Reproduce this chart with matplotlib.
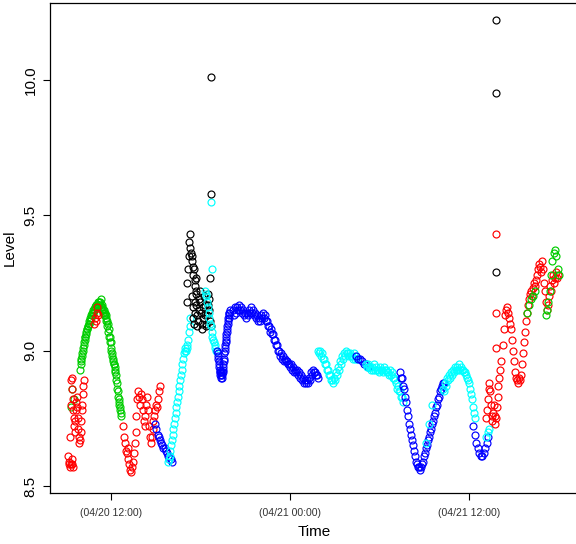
import matplotlib
matplotlib.use("Agg")
import matplotlib.pyplot as plt
import matplotlib.dates as mdates
import numpy as np
import pandas as pd

plt.rcParams["font.family"] = ["Liberation Sans", "DejaVu Sans"]

# hours after 04/20 00:00 for each run: (start, step); levels
red_start = [8.61, 8.59, 8.58, 8.57, 8.58, 8.60, 8.58, 8.57]
green_start = [8.79, 8.86, 8.82]
red_column = [8.68, 8.80, 8.89, 8.90, 8.86, 8.82, 8.78, 8.75, 8.72, 8.70, 8.74, 8.78, 8.81,
              8.83, 8.79, 8.75, 8.71, 8.68, 8.66, 8.67, 8.70, 8.74, 8.78, 8.80, 8.84, 8.87, 8.89]
green_hill = [8.93, 8.96, 8.98, 9.00, 9.02, 9.04, 9.05, 9.07, 9.08, 9.09, 9.10, 9.11, 9.12,
              9.13, 9.14, 9.14, 9.15, 9.16, 9.17, 9.16, 9.18, 9.17, 9.18, 9.19, 9.17, 9.16,
              9.15, 9.15, 9.14, 9.13, 9.11, 9.10, 9.08, 9.05, 9.03, 9.00, 8.98, 8.96, 8.95,
              8.93, 8.91, 8.88, 8.85, 8.82, 8.80, 8.78, 8.76]
green_hill_b = [8.95, 8.97, 8.99, 9.01, 9.03, 9.05, 9.06, 9.08, 9.09, 9.10, 9.11, 9.12, 9.13,
                9.14, 9.15, 9.15, 9.16, 9.17, 9.16, 9.17, 9.17, 9.18, 9.17, 9.16, 9.15, 9.14,
                9.13, 9.13, 9.12, 9.11, 9.09, 9.07, 9.05, 9.03, 9.01, 8.99, 8.97, 8.95, 8.94,
                8.92, 8.89, 8.86, 8.83, 8.81, 8.79, 8.77]
red_peak = [9.10, 9.12, 9.11, 9.14, 9.16, 9.13]
red_dip = [8.72, 8.68, 8.66, 8.63, 8.62, 8.64, 8.60, 8.58, 8.56, 8.55, 8.57, 8.59, 8.62,
           8.66, 8.70, 8.76, 8.82, 8.85, 8.83, 8.80, 8.84, 8.82, 8.78, 8.74, 8.72, 8.76,
           8.80, 8.83, 8.78, 8.72, 8.68, 8.66, 8.68, 8.71, 8.74, 8.76, 8.78, 8.80, 8.79,
           8.82, 8.85, 8.87]
blue_low = [8.73, 8.71, 8.69, 8.68, 8.67, 8.66, 8.65, 8.64, 8.64, 8.63, 8.62, 8.61, 8.60,
            8.60, 8.59]
cyan_rise = [8.59, 8.60, 8.61, 8.63, 8.65, 8.67, 8.69, 8.71, 8.73, 8.75, 8.77, 8.79, 8.81,
             8.83, 8.85, 8.87, 8.89, 8.91, 8.93, 8.95, 8.97, 8.99, 9.00, 9.01, 9.00, 9.01,
             9.02, 9.04, 9.07, 9.09, 9.12]
black_top = [9.18, 9.25, 9.30, 9.35, 9.40, 9.43, 9.38, 9.36, 9.33, 9.35, 9.31, 9.28, 9.30,
             9.26, 9.24, 9.27, 9.22]
black_cluster = [9.20, 9.16, 9.12, 9.10, 9.14, 9.18, 9.21, 9.17, 9.13, 9.09, 9.11, 9.15,
                 9.19, 9.22, 9.18, 9.14, 9.10, 9.08, 9.12, 9.16, 9.20, 9.17, 9.13, 9.10,
                 9.09, 9.13, 9.17, 9.21, 9.19, 9.15, 9.11, 9.09]
cyan_fall = [9.22, 9.20, 9.21, 9.18, 9.16, 9.14, 9.12, 9.10, 9.09, 9.07, 9.05, 9.04, 9.03,
             9.02, 9.01, 9.00]
blue_notch = [9.00, 8.98, 8.96, 8.94, 8.92, 8.91, 8.91, 8.92, 8.90, 8.93, 8.95, 8.97, 9.00,
              9.02, 9.04, 9.06, 9.08, 9.10, 9.12, 9.13, 9.14, 9.15]
blue_notch_b = [8.99, 8.97, 8.95, 8.93, 8.92, 8.92, 8.90, 8.91, 8.92, 8.94, 8.96, 8.99,
                9.01, 9.03, 9.05, 9.07, 9.09, 9.11, 9.12, 9.14]
blue_plateau = [9.15, 9.16, 9.16, 9.17, 9.16, 9.15, 9.14, 9.14, 9.15, 9.16, 9.15, 9.14,
                9.13, 9.12, 9.13, 9.14, 9.13, 9.11, 9.09, 9.08, 9.06, 9.04, 9.02, 9.00,
                8.99, 8.98, 8.97, 8.96, 8.95, 8.95, 8.94, 8.93, 8.93, 8.92, 8.91, 8.90,
                8.89, 8.89, 8.90, 8.92, 8.93, 8.92, 8.91]
blue_plateau_b = [9.13, 9.14, 9.15, 9.15, 9.14, 9.13, 9.12, 9.13, 9.14, 9.14, 9.13, 9.12,
                  9.11, 9.11, 9.12, 9.12, 9.11, 9.09, 9.07, 9.06, 9.04, 9.02, 9.00, 8.98,
                  8.97, 8.96, 8.96, 8.95, 8.94, 8.93, 8.92, 8.92, 8.91, 8.90, 8.89, 8.88,
                  8.88, 8.88, 8.89, 8.91, 8.92, 8.91, 8.90]
cyan_wave = [9.00, 9.00, 8.99, 8.97, 8.95, 8.93, 8.91, 8.89, 8.90, 8.92, 8.94, 8.96, 8.98,
             8.99, 9.00, 8.99, 8.99, 8.98, 8.99, 8.98]
cyan_wave_b = [8.99, 8.98, 8.97, 8.95, 8.93, 8.91, 8.89, 8.88, 8.89, 8.91, 8.93, 8.95, 8.97,
               8.98, 8.99, 8.98, 8.98, 8.97, 8.97, 8.97]
blue_mid = [8.98, 8.97, 8.97, 8.96, 8.95, 8.95, 8.94]
cyan_flat = [8.95, 8.95, 8.94, 8.94, 8.95, 8.94, 8.93, 8.94, 8.93, 8.94, 8.93, 8.92, 8.93,
             8.92, 8.90, 8.88, 8.87, 8.85, 8.83]
cyan_flat_b = [8.94, 8.94, 8.93, 8.93, 8.93, 8.93, 8.92, 8.93, 8.92, 8.93, 8.92, 8.91,
               8.91, 8.90, 8.89, 8.86, 8.85, 8.83, 8.81]
blue_valley = [8.92, 8.90, 8.86, 8.81, 8.76, 8.71, 8.67, 8.63, 8.59, 8.57, 8.56, 8.58,
               8.61, 8.64, 8.67, 8.70, 8.73, 8.76, 8.79, 8.82, 8.85, 8.87, 8.88]
blue_valley_b = [8.90, 8.87, 8.83, 8.78, 8.73, 8.69, 8.65, 8.61, 8.58, 8.57, 8.57, 8.59,
                 8.62, 8.65, 8.68, 8.71, 8.74, 8.77, 8.80, 8.83, 8.86, 8.88]
cyan_in_valley = [8.66, 8.73, 8.80]
cyan_bump = [8.86, 8.88, 8.90, 8.91, 8.92, 8.93, 8.94, 8.94, 8.95, 8.94, 8.93, 8.92, 8.90,
             8.88, 8.84, 8.79, 8.75]
cyan_bump_b = [8.85, 8.87, 8.89, 8.90, 8.91, 8.92, 8.93, 8.93, 8.93, 8.93, 8.92, 8.91,
               8.89, 8.86, 8.82, 8.77]
blue_end = [8.72, 8.69, 8.66, 8.64, 8.62, 8.61, 8.61, 8.62, 8.64, 8.66, 8.68]
cyan_end = [8.68, 8.70, 8.71]
red_late = [8.75, 8.78, 8.82, 8.86, 8.88, 8.85, 8.80, 8.76, 8.74, 8.77, 8.80, 8.76, 8.73,
            8.75, 8.79, 8.83, 8.87, 8.90, 8.93, 8.96]
red_climb = [9.02, 9.08, 9.13, 9.15, 9.16, 9.14, 9.12, 9.10, 9.08, 9.04, 9.00, 8.96, 8.92,
             8.90, 8.89, 8.88, 8.90, 8.89, 8.91, 8.95, 8.99, 9.03, 9.07, 9.11, 9.14, 9.17,
             9.19, 9.21, 9.22, 9.20, 9.23, 9.25, 9.24, 9.26, 9.28, 9.30, 9.32, 9.31, 9.29,
             9.33, 9.30, 9.25, 9.22, 9.18, 9.15, 9.17, 9.20, 9.24, 9.22, 9.26, 9.28, 9.25,
             9.27, 9.29, 9.27, 9.28]
green_mid = [9.14, 9.17, 9.19, 9.20, 9.22]
green_end = [9.13, 9.15, 9.18, 9.22, 9.28, 9.33, 9.36, 9.37, 9.35, 9.30, 9.28]

# isolated readings: hours, levels
black_hours = [18.73, 18.73, 18.65, 37.82, 37.82, 37.82]
black_levels = [10.01, 9.58, 9.27, 10.22, 9.95, 9.29]
cyan_hours = [18.73, 18.78]
cyan_levels = [9.55, 9.30]
red_hours = [37.82, 37.82, 37.82]
red_levels = [9.43, 9.14, 9.01]

runs = [
    ("red", 9.13, 0.05, red_start),
    ("green", 9.35, 0.08, green_start),
    ("red", 9.27, 0.035, red_column),
    ("green", 9.94, 0.06, green_hill),
    ("green", 9.97, 0.06, green_hill_b),
    ("red", 10.90, 0.05, red_peak),
    ("red", 12.82, 0.06, red_dip),
    ("blue", 14.97, 0.08, blue_low),
    ("cyan", 15.84, 0.05, cyan_rise),
    ("black", 17.10, 0.04, black_top),
    ("black", 17.45, 0.04, black_cluster),
    ("cyan", 18.31, 0.05, cyan_fall),
    ("blue", 19.15, 0.04, blue_notch),
    ("blue", 19.17, 0.04, blue_notch_b),
    ("blue", 20.19, 0.134, blue_plateau),
    ("blue", 20.25, 0.134, blue_plateau_b),
    ("cyan", 25.89, 0.134, cyan_wave),
    ("cyan", 25.95, 0.134, cyan_wave_b),
    ("blue", 28.43, 0.134, blue_mid),
    ("cyan", 29.10, 0.134, cyan_flat),
    ("cyan", 29.17, 0.134, cyan_flat_b),
    ("blue", 31.38, 0.134, blue_valley),
    ("blue", 31.45, 0.134, blue_valley_b),
    ("cyan", 33.12, 0.2, cyan_in_valley),
    ("cyan", 34.27, 0.134, cyan_bump),
    ("cyan", 34.33, 0.134, cyan_bump_b),
    ("blue", 36.30, 0.1, blue_end),
    ("cyan", 37.17, 0.1, cyan_end),
    ("red", 37.17, 0.05, red_late),
    ("red", 38.28, 0.067, red_climb),
    ("green", 39.89, 0.134, green_mid),
    ("green", 41.16, 0.087, green_end),
]

colors = {"black": "#000000", "red": "#FF0000", "green": "#00CD00",
          "blue": "#0000FF", "cyan": "#00FFFF"}

base = pd.Timestamp("2013-04-20 00:00")


def to_time(hours):
    return base + pd.to_timedelta(np.asarray(hours, dtype=float), unit="h")


fig = plt.figure(figsize=(5.76, 5.44), dpi=100)
ax = fig.add_axes([50 / 576, 51 / 544, 529 / 576, 490 / 544])

marker_kw = dict(linestyle="none", marker="o", markerfacecolor="none",
                 markersize=5.0, markeredgewidth=0.85)

for name, start, step, levels in runs:
    hours = start + step * np.arange(len(levels))
    ax.plot(to_time(hours), levels, markeredgecolor=colors[name], **marker_kw)

ax.plot(to_time(red_hours), red_levels, markeredgecolor=colors["red"], **marker_kw)
ax.plot(to_time(cyan_hours), cyan_levels, markeredgecolor=colors["cyan"], **marker_kw)
ax.plot(to_time(black_hours), black_levels, markeredgecolor=colors["black"], **marker_kw)

ax.set_xlim(to_time([7.925])[0], to_time([43.38])[0])
ax.set_ylim(8.474, 10.284)

ax.xaxis.set_major_locator(mdates.HourLocator(byhour=[0, 12]))
ax.xaxis.set_major_formatter(mdates.DateFormatter("(%m/%d %H:%M)"))
ax.set_yticks([8.5, 9.0, 9.5, 10.0])
ax.set_yticklabels(["8.5", "9.0", "9.5", "10.0"], rotation=90, va="center")

ax.tick_params(axis="x", length=5, width=0.8, pad=6, labelsize=7.6, labelcolor="#333333")
ax.tick_params(axis="y", length=5, width=0.8, pad=4, labelsize=11)
for spine in ax.spines.values():
    spine.set_linewidth(0.9)

ax.set_xlabel("Time", fontsize=11, labelpad=5)
ax.set_ylabel("Level", fontsize=11, labelpad=5)

fig.savefig("out.png", dpi=100)
plt.close(fig)
